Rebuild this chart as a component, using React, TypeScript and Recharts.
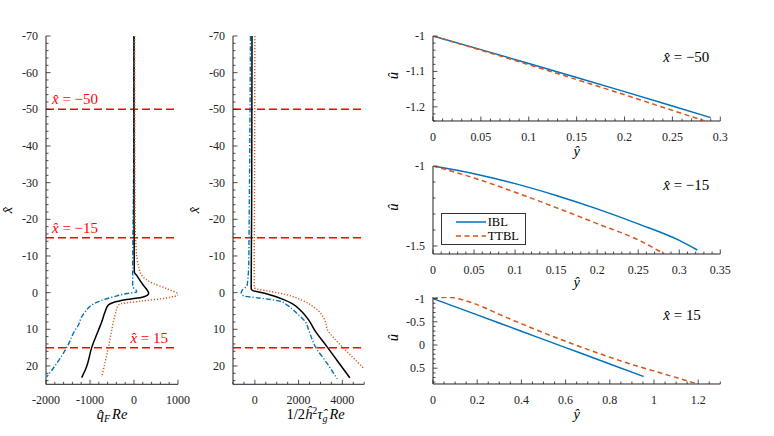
import React from "react";
import { ScatterChart, Scatter, XAxis, YAxis, ReferenceLine, ReferenceDot, Legend } from "recharts";

type Pair = [number, number];

const BLUE = "#0072BD";
const ORANGE = "#D95319";
const RED = "#FF0000";
const INK = "#222";
const FONT = "'Times New Roman', 'Liberation Serif', Times, serif";

// stations marked on the two left panels
const stations = [-50, -15, 15];

// q̂_F Re along x̂, pairs are [x̂, value]
const qfDashDot: Pair[] = [
  [-70, 0], [-30, -10], [-15, -25], [-5, -30], [-1.55, -30], [-0.85, 39], [-0.2, 61], [0.25, -166],
  [1.17, -470], [2.26, -773], [3.4, -962], [5.3, -1114], [6.6, -1189], [8.9, -1265], [10.3, -1341],
  [15, -1530], [19.3, -1757], [23, -1985],
];
const qfSolid: Pair[] = [
  [-70, 0], [-20, 2], [-10, 5], [-5.6, 7], [-4.7, 61], [-2, 212], [-0.65, 303], [0.25, 334], [1.17, 212],
  [1.9, -166], [2.7, -470], [3.4, -584], [5.3, -659], [8, -734], [10.3, -810], [15, -962], [20.3, -1080],
  [23.2, -1189],
];
const qfDotted: Pair[] = [
  [-70, 15], [-20, 25], [-12, 50], [-10.2, 60], [-7.5, 98], [-4.7, 175], [-2.5, 440], [-1.1, 743],
  [0.52, 1007], [1.45, 743], [2.35, 137], [3, -280], [3.4, -356], [6.2, -432], [10.3, -507], [15, -584],
  [23, -734],
];

// 1/2 ĥ² τ̂_g Re along x̂
const tauDashDot: Pair[] = [
  [-70, -200], [-20, -260], [-8, -280], [-2, -351], [-0.65, -580], [0, -625], [0.9, -506], [1.45, 180],
  [2.35, 1172], [3.4, 1478], [5.7, 1935], [8, 2315], [10.3, 2467], [14.8, 2772], [19.3, 3305], [23.5, 3762],
];
const tauSolid: Pair[] = [
  [-70, -130], [-20, -150], [-5, -165], [-1.1, -168], [-0.65, -122], [0.25, 486], [1.9, 1323], [3, 1707],
  [5.3, 2164], [7.5, 2466], [10.3, 2741], [14.8, 3305], [18.5, 3762], [23.2, 4341],
];
const tauDotted: Pair[] = [
  [-70, 0], [-20, -20], [-5, -30], [-1.5, -30], [-1.1, 29], [-0.4, 637], [0.5, 1400], [2.1, 2164],
  [3.9, 2695], [6.2, 3079], [8, 3229], [10.3, 3335], [12, 3560], [16.1, 4221], [20.7, 4990],
];

// velocity profiles, pairs are [ŷ, û]
const u50Ibl: Pair[] = [[0, -1], [0.05, -1.0385], [0.1, -1.0775], [0.15, -1.117], [0.2, -1.157], [0.25, -1.1975], [0.29, -1.2305]];
const u50Ttbl: Pair[] = [[0, -1], [0.05, -1.04], [0.1, -1.081], [0.15, -1.123], [0.2, -1.166], [0.25, -1.21], [0.284, -1.24]];
const u15mIbl: Pair[] = [[0, -1], [0.05, -1.048], [0.1, -1.11], [0.15, -1.184], [0.2, -1.268], [0.25, -1.362], [0.3, -1.465], [0.322, -1.525]];
const u15mTtbl: Pair[] = [[0, -1], [0.05, -1.075], [0.1, -1.164], [0.15, -1.26], [0.2, -1.36], [0.25, -1.462], [0.282, -1.55]];
const u15Ibl: Pair[] = [[0, -1], [0.2, -0.648], [0.4, -0.296], [0.6, 0.056], [0.8, 0.408], [0.953, 0.68]];
const u15Ttbl: Pair[] = [
  [0, -1], [0.03, -1.022], [0.07, -1.03], [0.12, -0.99], [0.2, -0.87], [0.3, -0.66], [0.45, -0.36],
  [0.6, -0.08], [0.75, 0.18], [0.9, 0.42], [1.05, 0.63], [1.19, 0.83],
];

// labelled ticks
const qfMajor = [-2000, -1000, 0, 1000];
const tauMajor = [0, 2000, 4000];
const xhMajor = [-70, -60, -50, -40, -30, -20, -10, 0, 10, 20];
const y50Major = [0, 0.05, 0.1, 0.15, 0.2, 0.25, 0.3];
const u50Major = [-1.2, -1.1, -1];
const y15mMajor = [0, 0.05, 0.1, 0.15, 0.2, 0.25, 0.3, 0.35];
const u15mMajor = [-1.5, -1];
const y15Major = [0, 0.2, 0.4, 0.6, 0.8, 1, 1.2];
const u15Major = [-1, -0.5, 0, 0.5];

const AX = 56;
const MT = 12;
const MR = 12;
const XH = 46;

function ticksFrom(from: number, to: number, step: number) {
  const n = Math.round((to - from) / step);
  return Array.from({ length: n + 1 }, (_, i) => +(from + i * step).toFixed(6));
}

const isMajor = (majors: number[], v: number) => majors.some((m) => Math.abs(m - v) < 1e-9);

const txt = { fontFamily: FONT };

function xTick(majors: number[], axisY: number) {
  return (p: any) => {
    const v = p.payload.value;
    const major = isMajor(majors, v);
    return (
      <g>
        <line x1={p.x} x2={p.x} y1={axisY} y2={axisY - (major ? 4.5 : 2.5)} stroke={INK} strokeWidth={0.8} />
        {major && (
          <text x={p.x} y={axisY + 20} textAnchor="middle" style={txt} fontSize={12} fill={INK}>
            {String(v)}
          </text>
        )}
      </g>
    );
  };
}

function yTick(majors: number[], axisX: number) {
  return (p: any) => {
    const v = p.payload.value;
    const major = isMajor(majors, v);
    return (
      <g>
        <line x1={axisX} x2={axisX + (major ? 4.5 : 2.5)} y1={p.y} y2={p.y} stroke={INK} strokeWidth={0.8} />
        {major && (
          <text x={axisX - 8} y={p.y + 4} textAnchor="end" style={txt} fontSize={12} fill={INK}>
            {String(v)}
          </text>
        )}
      </g>
    );
  };
}

const noMarker = () => <g />;

const xHat = <tspan fontStyle="italic">x&#770;</tspan>;

const qfTitle = (
  <>
    <tspan fontStyle="italic">q&#770;</tspan>
    <tspan fontStyle="italic" fontSize={10} dy={3}>F</tspan>
    <tspan fontStyle="italic" dy={-3} dx={2}>Re</tspan>
  </>
);

const tauTitle = (
  <>
    <tspan>1/2</tspan>
    <tspan fontStyle="italic">ĥ</tspan>
    <tspan fontSize={10} dy={-5}>2</tspan>
    <tspan fontStyle="italic" dy={5}>τ&#770;</tspan>
    <tspan fontStyle="italic" fontSize={10} dy={3}>g</tspan>
    <tspan fontStyle="italic" dy={-3} dx={2}>Re</tspan>
  </>
);

function stationLabel(value: number, side: "start" | "end") {
  return (p: any) => {
    const vb = p.viewBox || { x: 0, y: 0, width: 0 };
    const x = side === "start" ? vb.x + 6 : vb.x + vb.width - 10;
    return (
      <text x={x} y={vb.y - 5} textAnchor={side} style={txt} fontSize={15} fill={RED}>
        {xHat} = {value < 0 ? "\u2212" + Math.abs(value) : value}
      </text>
    );
  };
}

function stationNote(text: string) {
  return (p: any) => {
    const vb = p.viewBox || { x: 0, y: 0 };
    return (
      <text x={vb.x} y={vb.y} style={txt} fontSize={15} fill="#000">
        {xHat} = {text}
      </text>
    );
  };
}

const legendDash: Record<string, string | undefined> = { IBL: undefined, TTBL: "5 3.5" };

function LegendBox(props: any) {
  const items = props.payload || [];
  return (
    <div style={{ width: 83, height: 29, border: "1.2px solid #333", background: "#fff", fontFamily: FONT, fontSize: 12.5, color: "#000", paddingTop: 1 }}>
      {items.map((it: any) => (
        <div key={it.value} style={{ display: "flex", alignItems: "center", height: 14 }}>
          <svg width={46} height={10}>
            <line x1={14} x2={44} y1={5} y2={5} stroke={it.color} strokeWidth={1.5} strokeDasharray={legendDash[it.value]} />
          </svg>
          <span>{it.value}</span>
        </div>
      ))}
    </div>
  );
}

type Series = { name: string; data: Pair[]; color: string; dash?: string; width?: number };

type PanelProps = {
  left: number;
  top: number;
  pw: number;
  ph: number;
  xDomain: [number, number];
  yDomain: [number, number];
  reversed?: boolean;
  xTicks: number[];
  xMajor: number[];
  yTicks: number[];
  yMajor: number[];
  swap?: boolean;
  series: Series[];
  xTitle: React.ReactNode;
  xTitleDx?: number;
  xTitleGap: number;
  yTitle: React.ReactNode;
  yTitleGap: number;
  yTitleDy?: number;
  children?: React.ReactNode;
};

function Panel(props: PanelProps) {
  const { left, top, pw, ph, swap } = props;
  const width = AX + pw + MR;
  const height = MT + ph + XH;
  const axisY = MT + ph;
  const xTitle = () => (
    <text x={AX + pw / 2 + (props.xTitleDx || 0)} y={axisY + props.xTitleGap} textAnchor="middle" style={txt} fontSize={14.5} fill="#000">
      {props.xTitle}
    </text>
  );
  const yTitle = () => (
    <text
      transform={`translate(${AX - props.yTitleGap}, ${MT + ph / 2 + (props.yTitleDy || 0)}) rotate(-90)`}
      textAnchor="middle"
      style={txt}
      fontSize={14.5}
      fill="#000"
    >
      {props.yTitle}
    </text>
  );
  return (
    <div style={{ position: "absolute", left: left - AX, top: top - MT }}>
      <ScatterChart width={width} height={height} margin={{ top: MT, right: MR, bottom: 0, left: 0 }}>
        <XAxis
          type="number"
          dataKey="xv"
          domain={props.xDomain}
          allowDataOverflow
          ticks={props.xTicks}
          interval={0}
          tickLine={false}
          axisLine={{ stroke: INK, strokeWidth: 1 }}
          tick={xTick(props.xMajor, axisY)}
          height={XH}
          label={{ content: xTitle }}
        />
        <YAxis
          type="number"
          dataKey="yv"
          domain={props.yDomain}
          reversed={props.reversed}
          allowDataOverflow
          ticks={props.yTicks}
          interval={0}
          tickLine={false}
          axisLine={{ stroke: INK, strokeWidth: 1 }}
          tick={yTick(props.yMajor, AX)}
          width={AX}
          label={{ content: yTitle }}
        />
        {props.series.map((s) => (
          <Scatter
            key={s.name}
            name={s.name}
            data={s.data.map(([a, b]) => (swap ? { xv: b, yv: a } : { xv: a, yv: b }))}
            fill={s.color}
            line={{ stroke: s.color, strokeWidth: s.width ?? 1.4, strokeDasharray: s.dash }}
            lineJointType={swap ? "monotoneY" : "monotoneX"}
            shape={noMarker}
            isAnimationActive={false}
          />
        ))}
        {props.children}
      </ScatterChart>
    </div>
  );
}

const leftSeries = (dashDot: Pair[], solid: Pair[], dotted: Pair[]): Series[] => [
  { name: "dashdot", data: dashDot, color: BLUE, dash: "5 2 1.2 2" },
  { name: "solid", data: solid, color: "#000", width: 1.5 },
  { name: "dotted", data: dotted, color: ORANGE, dash: "1.2 1.8" },
];

const profileSeries = (ibl: Pair[], ttbl: Pair[]): Series[] => [
  { name: "IBL", data: ibl, color: BLUE, width: 1.5 },
  { name: "TTBL", data: ttbl, color: ORANGE, dash: "5 3.5", width: 1.5 },
];

const xhTicks = ticksFrom(-70, 24, 2);
const yHatTitle = <tspan fontStyle="italic">ŷ</tspan>;
const uHatTitle = <tspan fontStyle="italic">û</tspan>;

export default function App() {
  return (
    <div style={{ position: "absolute", left: 0, top: 0, width: 774, height: 436, background: "#fff", overflow: "hidden", fontFamily: FONT }}>
      <Panel
        left={46}
        top={35.7}
        pw={132}
        ph={348.3}
        xDomain={[-2000, 1000]}
        yDomain={[-70, 25]}
        reversed
        xTicks={ticksFrom(-2000, 1000, 200)}
        xMajor={qfMajor}
        yTicks={xhTicks}
        yMajor={xhMajor}
        swap
        series={leftSeries(qfDashDot, qfSolid, qfDotted)}
        xTitle={qfTitle}
        xTitleGap={35}
        yTitle={xHat}
        yTitleGap={34}
      >
        {stations.map((s) => (
          <ReferenceLine
            key={s}
            y={s}
            stroke={RED}
            strokeWidth={1.5}
            strokeDasharray="8 4"
            label={{ content: stationLabel(s, s > 0 ? "end" : "start") }}
          />
        ))}
      </Panel>
      <Panel
        left={232.5}
        top={35.7}
        pw={131.2}
        ph={348.3}
        xDomain={[-1000, 5000]}
        yDomain={[-70, 25]}
        reversed
        xTicks={ticksFrom(-1000, 5000, 500)}
        xMajor={tauMajor}
        yTicks={xhTicks}
        yMajor={xhMajor}
        swap
        series={leftSeries(tauDashDot, tauSolid, tauDotted)}
        xTitle={tauTitle}
        xTitleDx={17}
        xTitleGap={35}
        yTitle={xHat}
        yTitleGap={34}
      >
        {stations.map((s) => (
          <ReferenceLine key={s} y={s} stroke={RED} strokeWidth={1.5} strokeDasharray="8 4" />
        ))}
      </Panel>
      <Panel
        left={432.7}
        top={35.7}
        pw={287.3}
        ph={85}
        xDomain={[0, 0.3]}
        yDomain={[-1.24, -1]}
        xTicks={ticksFrom(0, 0.3, 0.01)}
        xMajor={y50Major}
        yTicks={ticksFrom(-1.24, -1, 0.02)}
        yMajor={u50Major}
        series={profileSeries(u50Ibl, u50Ttbl)}
        xTitle={yHatTitle}
        xTitleGap={35}
        yTitle={uHatTitle}
        yTitleGap={35}
        yTitleDy={-3}
      >
        <ReferenceDot x={0.2405} y={-1.074} r={0} stroke="none" fill="none" label={{ content: stationNote("\u221250") }} />
      </Panel>
      <Panel
        left={432.7}
        top={166}
        pw={287.3}
        ph={88}
        xDomain={[0, 0.35]}
        yDomain={[-1.55, -1]}
        xTicks={ticksFrom(0, 0.35, 0.01)}
        xMajor={y15mMajor}
        yTicks={ticksFrom(-1.5, -1, 0.1)}
        yMajor={u15mMajor}
        series={profileSeries(u15mIbl, u15mTtbl)}
        xTitle={yHatTitle}
        xTitleGap={33}
        yTitle={uHatTitle}
        yTitleGap={35}
        yTitleDy={-3}
      >
        <ReferenceDot x={0.2805} y={-1.15} r={0} stroke="none" fill="none" label={{ content: stationNote("\u221215") }} />
        <Legend
          layout="vertical"
          align="center"
          verticalAlign="middle"
          content={LegendBox}
          wrapperStyle={{ left: 64, top: 59.3, width: 86, height: 31 }}
        />
      </Panel>
      <Panel
        left={432.7}
        top={297}
        pw={287.3}
        ph={87}
        xDomain={[0, 1.3]}
        yDomain={[-1.034, 0.84]}
        reversed
        xTicks={ticksFrom(0, 1.3, 0.05)}
        xMajor={y15Major}
        yTicks={ticksFrom(-1, 0.8, 0.1)}
        yMajor={u15Major}
        series={profileSeries(u15Ibl, u15Ttbl)}
        xTitle={yHatTitle}
        xTitleGap={35}
        yTitle={uHatTitle}
        yTitleGap={35}
        yTitleDy={-3}
      >
        <ReferenceDot x={1.042} y={-0.535} r={0} stroke="none" fill="none" label={{ content: stationNote("15") }} />
      </Panel>
    </div>
  );
}
